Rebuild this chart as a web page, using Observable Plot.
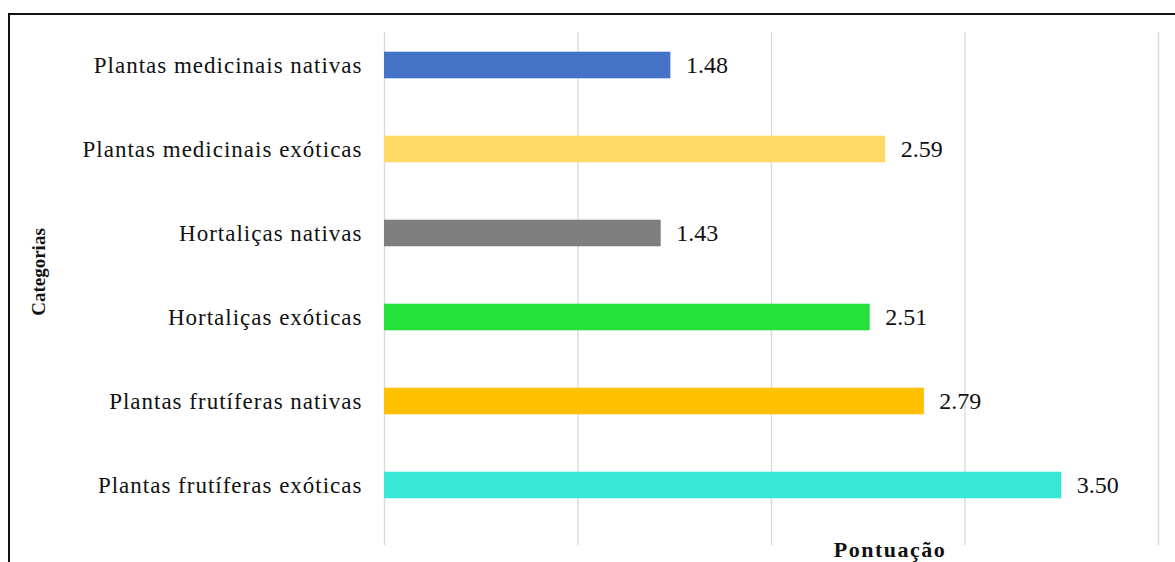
<!DOCTYPE html>
<html>
<head>
<meta charset="utf-8">
<script src="https://cdn.jsdelivr.net/npm/d3@7"></script>
<script src="https://cdn.jsdelivr.net/npm/@observablehq/plot@0.6"></script>
<style>
  html, body { margin: 0; padding: 0; background: #fff; }
  #wrap { position: relative; width: 1175px; height: 562px; overflow: hidden;
          font-family: 'Liberation Serif', 'Times New Roman', serif; color: #111; }
  #frame { position: absolute; left: 8px; top: 13px; width: 1300px; height: 700px;
           border-left: 2.5px solid #111; border-top: 2.5px solid #111; }
  #chart { position: absolute; left: 0; top: 0; }
  #chart svg text { font-family: 'Liberation Serif', 'Times New Roman', serif !important; }
  #chart svg g[aria-label="y-axis tick label"] text { letter-spacing: 1px; }
  #chart svg g[aria-label="value labels"] text { letter-spacing: 1px; }
  .title { position: absolute; font-weight: bold; white-space: nowrap; line-height: 1; }
  #ytitle { left: 38px; top: 272px; font-size: 19px; transform: translate(-50%, -50%) rotate(-90deg); }
  #xtitle { left: 890px; top: 539px; font-size: 22px; letter-spacing: 1.5px; transform: translateX(-50%); }
</style>
</head>
<body>
<div id="wrap"><div id="frame"></div><div id="chart"></div>
  <div id="ytitle" class="title"></div><div id="xtitle" class="title"></div></div>
<script>
const categories = [
  "Plantas medicinais nativas",
  "Plantas medicinais exóticas",
  "Hortaliças nativas",
  "Hortaliças exóticas",
  "Plantas frutíferas nativas",
  "Plantas frutíferas exóticas"
];
const values = [1.48, 2.59, 1.43, 2.51, 2.79, 3.50];
const colors = ["#4472C4", "#FFD966", "#7F7F7F", "#25E23B", "#FFC000", "#38E8D6"];
const xTicks = [0, 1, 2, 3, 4];
const xTitle = "Pontuação";
const yTitle = "Categorias";

const data = categories.map((c, i) => ({category: c, value: values[i], color: colors[i]}));
const serif = "'Liberation Serif', 'Times New Roman', serif";

const chart = Plot.plot({
  width: 1175,
  height: 562,
  marginLeft: 384,
  marginRight: 17,
  marginTop: 32,
  marginBottom: 17,
  style: {background: "transparent", fontFamily: serif},
  x: {domain: [0, 4], axis: null},
  y: {domain: categories, range: [22, 528], padding: 0, axis: null},
  marks: [
    Plot.gridX(xTicks, {stroke: "#d9d9d9", strokeOpacity: 1, strokeWidth: 1.3}),
    Plot.barX(data, {x: "value", y: "category", fill: d => d.color, insetTop: 28.7, insetBottom: 28.7}),
    Plot.text(data, {x: "value", y: "category", text: d => d.value.toFixed(2), textAnchor: "start", dx: 15,
      fontSize: 24, fontFamily: serif, fill: "#111", ariaLabel: "value labels"}),
    Plot.axisY({tickSize: 0, tickPadding: 22, fontSize: 23, fontFamily: serif, fill: "#111", label: null})
  ]
});
document.getElementById("chart").appendChild(chart);
document.getElementById("ytitle").textContent = yTitle;
document.getElementById("xtitle").textContent = xTitle;
</script>
</body>
</html>
